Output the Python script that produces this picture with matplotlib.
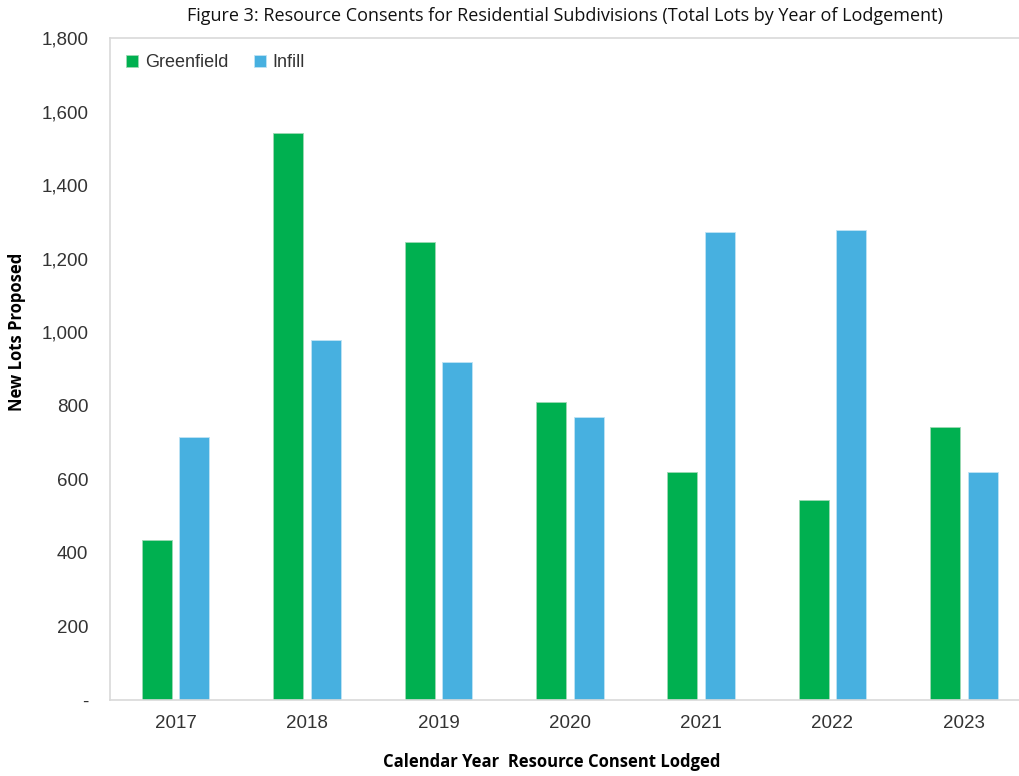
import numpy as np
import matplotlib
matplotlib.use('Agg')
import matplotlib.pyplot as plt
from matplotlib.ticker import FuncFormatter

# data
years = ['2017', '2018', '2019', '2020', '2021', '2022', '2023']
greenfield = [435, 1542, 1245, 810, 620, 544, 742]
infill = [715, 979, 919, 770, 1272, 1278, 620]

green_col = '#00B050'
blue_col = '#47B0E0'

fig = plt.figure(figsize=(10.19, 7.76), dpi=100)
ax = fig.add_axes([110/1019, 76/776, 919.5/1019, 662/776])

x = np.arange(len(years))
w = 0.228
ax.bar(x - 0.143, greenfield, w, color=green_col, label='Greenfield',
       edgecolor='#9ED9B4', linewidth=0.6)
ax.bar(x + 0.143, infill, w, color=blue_col, label='Infill',
       edgecolor='#BFE3F4', linewidth=0.6)

ax.set_xlim(-0.5, len(years) - 0.5)
ax.set_ylim(0, 1800)
ax.set_yticks(np.arange(0, 1801, 200))
ax.yaxis.set_major_formatter(FuncFormatter(lambda v, p: '-' if v == 0 else '{:,.0f}'.format(v)))
ax.set_xticks(x)
ax.set_xticklabels(years)

tick_font = 'Liberation Sans'
for lab in ax.get_xticklabels() + ax.get_yticklabels():
    lab.set_fontfamily(tick_font)
    lab.set_fontsize(13.5)
    lab.set_color('#333333')
ax.tick_params(axis='both', length=0)
ax.tick_params(axis='y', pad=15.5)
ax.tick_params(axis='x', pad=11)

for s in ax.spines.values():
    s.set_color('#D9D9D9')
    s.set_linewidth(1.2)

ax.set_ylabel('New Lots Proposed', fontsize=12, fontweight='bold',
              fontfamily='Open Sans', va='center')
ax.yaxis.set_label_coords(-(110 - 17) / 919.5, (700 - 332) / 662)
ax.set_xlabel('Calendar Year  Resource Consent Lodged', fontsize=12,
              fontweight='bold', fontfamily='Open Sans')
ax.xaxis.set_label_coords((552 - 110) / 919.5, -(762 - 700) / 662)
ax.xaxis.label.set_va('center')

fig.text(565/1019, 1 - 16/776,
         'Figure 3: Resource Consents for Residential Subdivisions (Total Lots by Year of Lodgement)',
         ha='center', va='center', fontsize=13, fontfamily='Open Sans', color='#111111')

leg = ax.legend(loc='upper left', bbox_to_anchor=(0.0, 1.0), ncol=2, frameon=False,
                handlelength=0.65, handleheight=0.65, handletextpad=0.4, columnspacing=1.4,
                prop={'family': 'Liberation Sans', 'size': 13})
for t in leg.get_texts():
    t.set_color('#333333')

fig.savefig('out.png', dpi=100)
